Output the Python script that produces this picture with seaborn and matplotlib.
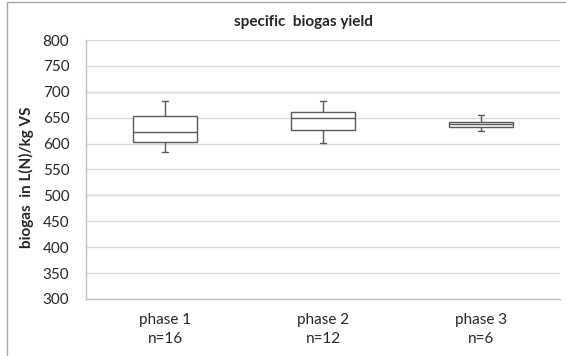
import numpy as np
import pandas as pd
import seaborn as sns
import matplotlib.pyplot as plt
from matplotlib.patches import Rectangle

# five-number summaries (min, q1, median, q3, max)
phases = ['phase 1\nn=16', 'phase 2\nn=12', 'phase 3\nn=6']
phase1 = [583, 603, 623, 653, 683]
phase2 = [601, 626, 649, 661, 683]
phase3 = [624, 632, 638, 641, 655]
yticks = [300, 350, 400, 450, 500, 550, 600, 650, 700, 750, 800]

df = pd.DataFrame({
    'phase': np.repeat(phases, 5),
    'biogas': phase1 + phase2 + phase3,
})

sns.set_style('white')
plt.rcParams['font.family'] = ['Lato', 'DejaVu Sans']

fig = plt.figure(figsize=(5.66, 3.56), dpi=100)
ax = fig.add_axes([86/566, 1 - 299/356, (560 - 86)/566, (299 - 40)/356])

edge = '#595959'
sns.boxplot(data=df, x='phase', y='biogas', order=phases, whis=(0, 100),
            width=0.4, color='white', linecolor=edge, linewidth=1.0,
            fliersize=0, ax=ax)

# shorten whisker caps to Excel-like stubs
for ln in ax.lines:
    xd, yd = np.asarray(ln.get_xdata(), float), np.asarray(ln.get_ydata(), float)
    if len(xd) == 2 and yd[0] == yd[1] and 0 < abs(xd[1] - xd[0]) < 0.35:
        c = xd.mean()
        ln.set_xdata([c - 0.02, c + 0.02])

ax.set_ylim(300, 800)
ax.set_xlim(-0.5, 2.5)
ax.set_yticks(yticks)
ax.yaxis.grid(True, color='#d9d9d9', linewidth=1.0)
ax.set_axisbelow(True)

# category boundary ticks on the bottom, labels centred between them
ax.set_xticks([-0.5, 0.5, 1.5, 2.5])
ax.set_xticklabels([])
ax.set_xticks([0, 1, 2], minor=True)
ax.set_xticklabels(phases, minor=True, fontsize=11, linespacing=1.45)
ax.tick_params(axis='x', which='major', length=5, color='#bfbfbf', width=1)
ax.tick_params(axis='x', which='minor', length=0, pad=10)
ax.tick_params(axis='y', length=0, pad=12, labelsize=11)

for s in ['top', 'right']:
    ax.spines[s].set_visible(False)
for s in ['left', 'bottom']:
    ax.spines[s].set_color('#bfbfbf')
    ax.spines[s].set_linewidth(1.0)

ax.set_xlabel('')
ax.set_ylabel('biogas  in L(N)/kg VS', fontsize=11, fontweight='bold')
ax.yaxis.set_label_coords(-0.11, 0.47)
fig.text(303.5/566, 1 - 22/356, 'specific  biogas yield', ha='center', va='center',
         fontsize=11, fontweight='bold')

# chart-area border (top and left edges visible in the crop)
fig.patches.append(Rectangle((7/566, -0.1), 1.2, 1.1 - 2/356, transform=fig.transFigure,
                             fill=False, edgecolor='#a6a6a6', linewidth=1.0))

fig.savefig('out.png', dpi=100)
